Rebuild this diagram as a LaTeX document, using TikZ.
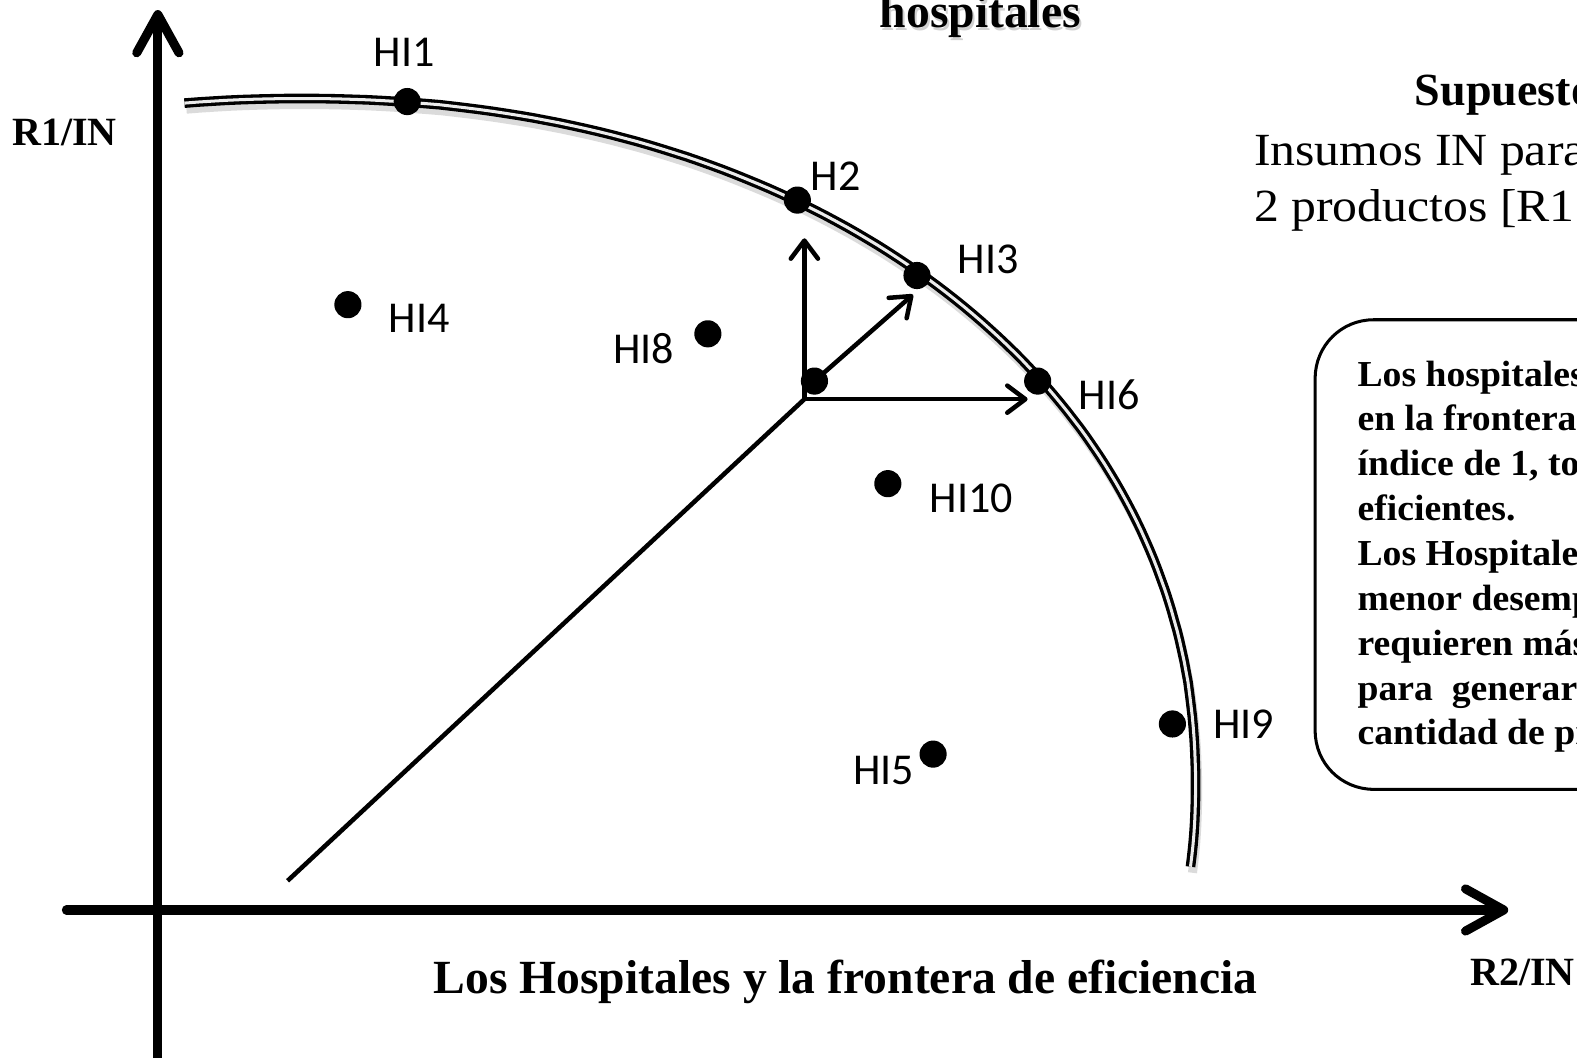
\documentclass[tikz,border=0pt]{standalone}
\usepackage{fontspec}
\setmainfont{Liberation Serif}
\newfontfamily\labfont{Carlito}
\newfontfamily\widefont[FakeStretch=1.08]{Liberation Serif}
\newfontfamily\boxfont[FakeStretch=1.03]{Liberation Serif}
\usetikzlibrary{arrows.meta}
\begin{document}
\begin{tikzpicture}[x=1bp,y=-1bp,
  dot/.style={circle,fill=black,inner sep=0pt,minimum size=27bp},
  lab/.style={font=\labfont\fontsize{44}{52}\selectfont,inner sep=0pt},
  axisline/.style={line width=9bp,line cap=round,-{Straight Barb[length=38bp,width=42bp,line cap=round,line join=round]}},
  arr/.style={line width=4.5bp,-{Straight Barb[length=18bp,width=27bp,line cap=round,line join=round]}},
  plain/.style={line width=4.5bp},
  big/.style={font=\bfseries\fontsize{47.5}{56}\selectfont,inner sep=0pt},
  axlab/.style={font=\bfseries\fontsize{40}{48}\selectfont,inner sep=0pt},
  boxtxt/.style={font=\boxfont\bfseries\fontsize{36.5}{44}\selectfont,inner sep=0pt,anchor=base west},
  plaintxt/.style={font=\widefont\fontsize{46}{55}\selectfont,inner sep=0pt,anchor=base west},
  frontier/.style={line width=3.3bp,double=black!8,double distance=3bp}
]
\useasboundingbox (0,0) rectangle (1568.4,1052.2);
\clip (0,0) rectangle (1577,1058);

% axes
\coordinate (ybot) at (157,1075);
\coordinate (ytop) at (157,10);
\coordinate (xl) at (66,905);
\coordinate (xr) at (1500,905);
\draw[axisline] (ybot) -- (ytop);
\draw[axisline] (xl) -- (xr);

% frontier (superellipse) with shadow
\def\frontierpath{plot[domain=96.8:-6.2,samples=120,variable=\t]
  ({300+889*(cos(\t)<0 ? -1 : 1)*pow(abs(cos(\t)),0.952)},
   {780-682*(sin(\t)<0 ? -1 : 1)*pow(abs(sin(\t)),0.952)})}
\draw[black!14,line width=9bp,shift={(2,6)}] \frontierpath;
\draw[frontier] \frontierpath;

% dots
\node[dot] (hi1) at (405,101) {};
\node[dot] (h2) at (793,199) {};
\node[dot] (hi3) at (912,274) {};
\node[dot] (hi6) at (1032,379) {};
\node[dot] (hi9) at (1166,720) {};
\node[dot] (hi4) at (346,303) {};
\node[dot] (hi8) at (704,332) {};
\node[dot] (o) at (810,379) {};
\node[dot] (hi10) at (883,481) {};
\node[dot] (hi5) at (928,750) {};

% vectors
\coordinate (s) at (286,876);
\coordinate (c) at (800,397);
\coordinate (v) at (800,237);
\coordinate (hh) at (1022,397);
\coordinate (d) at (908,293);
\draw[plain] (s) -- (c);
\draw[arr] (c) -- (v);
\draw[arr] (c) -- (hh);
\draw[arr] (o.center) -- (d);

% labels
\node[lab] at (402,52) {HI1};
\node[lab] at (831,175) {H2};
\node[lab] at (983,258) {HI3};
\node[lab] at (417,317) {HI4};
\node[lab] at (640,347) {HI8};
\node[lab] at (1103,393) {HI6};
\node[lab] at (966,496) {HI10};
\node[lab] at (1237,720) {HI9};
\node[lab] at (879,766) {HI5};

% title with soft shadow
\node[big,anchor=base,text=black!18] at (977,30) {hospitales};
\node[big,anchor=base] (title) at (975,27) {hospitales};

% axis labels and caption
\node[axlab,anchor=base west] (r1) at (12,145) {R1/IN};
\node[axlab,anchor=base west] (r2) at (1462,980) {R2/IN};
\node[big,anchor=base] (cap) at (841,988) {Los Hospitales y la frontera de eficiencia};

% assumptions
\node[font=\bfseries\fontsize{46}{55}\selectfont,inner sep=0pt,anchor=base west] at (1407,105) {Supuestos};
\node[plaintxt] at (1247,165) {Insumos IN para};
\node[plaintxt] at (1247,220) {2 productos [R1 y R2]};

% box
\draw[line width=3bp,rounded corners=58bp] (1308,318) rectangle (1640,785);
\foreach \t [count=\i from 0] in {{Los hospitales situados},{en la frontera tienen},{índice de 1, todos son},{eficientes.},{Los Hospitales con},{menor desempeño},{requieren más insumos},{para\ \ generar la misma},{cantidad de productos.}}
  \node[boxtxt] at (1350,384+44.6*\i) {\t};
\end{tikzpicture}
\end{document}
